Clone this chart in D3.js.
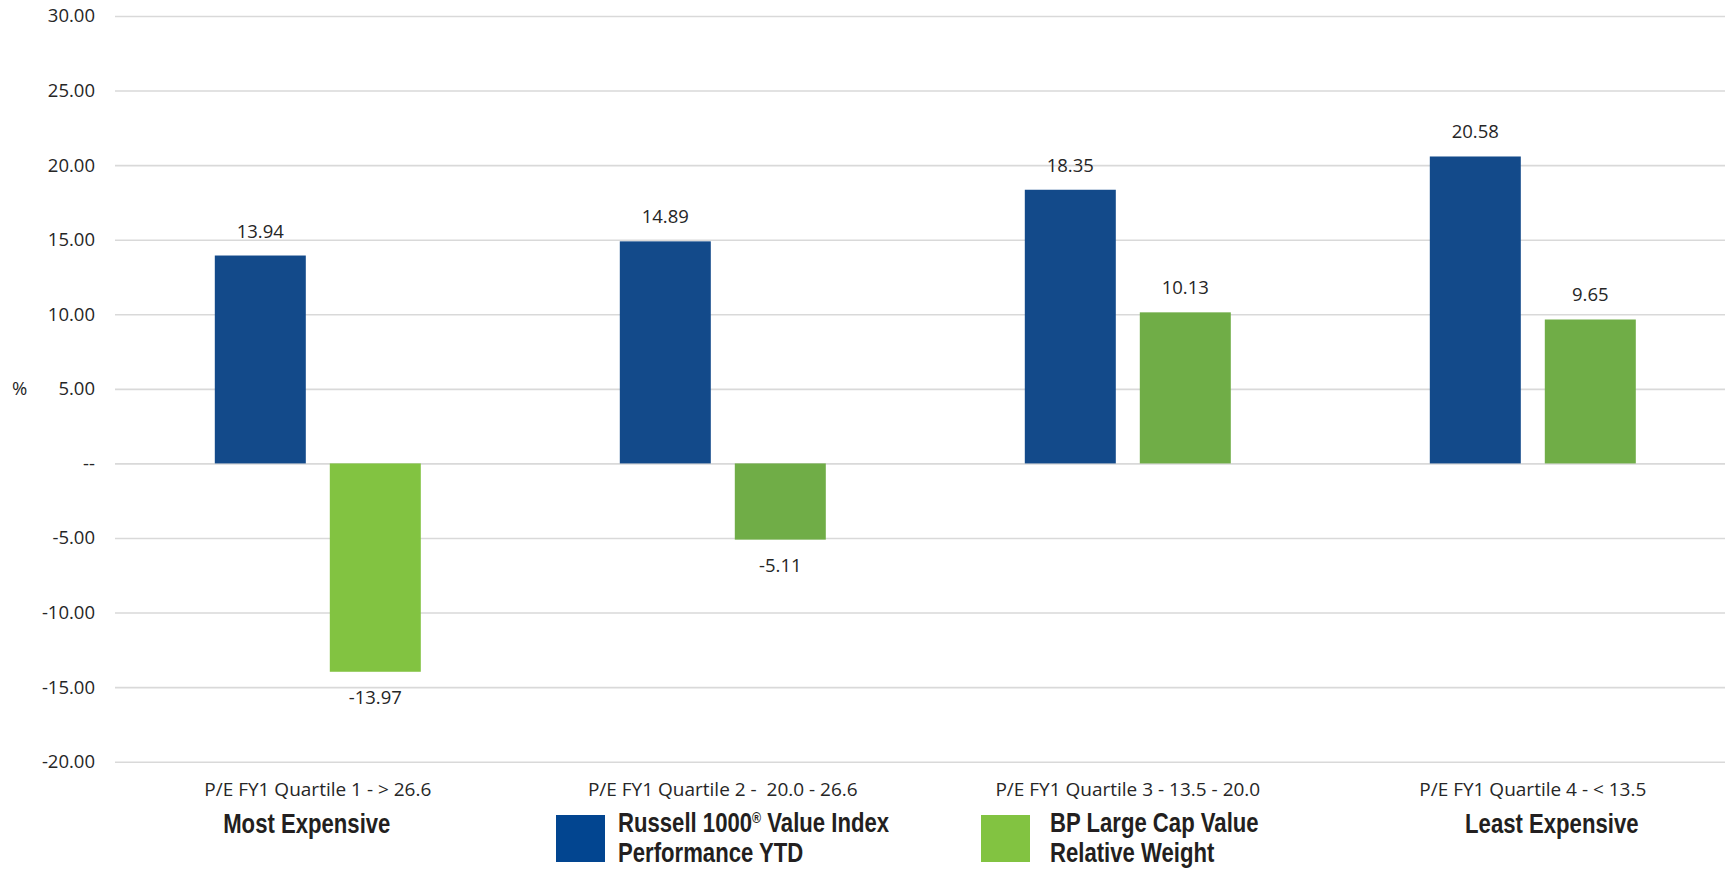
<!DOCTYPE html>
<html>
<head>
<meta charset="utf-8">
<script src="https://cdn.jsdelivr.net/npm/d3@7/dist/d3.min.js"></script>
<style>
  html, body { margin: 0; padding: 0; background: #ffffff; }
  svg { display: block; }
  .tick text { font-family: "Open Sans", "Noto Sans", sans-serif; font-size: 18.5px; fill: #262626; }
</style>
</head>
<body>
<svg id="chart" width="1725" height="869"></svg>
<script>
// ---- data ----
const categories = [
  "P/E FY1 Quartile 1 - > 26.6",
  "P/E FY1 Quartile 2 -  20.0 - 26.6",
  "P/E FY1 Quartile 3 - 13.5 - 20.0",
  "P/E FY1 Quartile 4 - < 13.5"
];
const categoryNotes = ["Most Expensive", "", "", "Least Expensive"];
const seriesNames = ["Russell 1000® Value Index Performance YTD", "BP Large Cap Value Relative Weight"];
const russellValues = [13.94, 14.89, 18.35, 20.58];
const bpValues = [-13.97, -5.11, 10.13, 9.65];
const yTicks = [-20, -15, -10, -5, 0, 5, 10, 15, 20, 25, 30];

// ---- styles ----
const russellColor = "#134a8a";
const bpColors = ["#82c341", "#70ad47", "#70ad47", "#70ad47"];
const legendColors = ["#024590", "#82c341"];
const boldFont = "'Liberation Sans', Arial, sans-serif";
const condense = 0.82;

const fmt = v => d3.format(".2f")(v).replace("\u2212", "-");

const svg = d3.select("#chart");

const y = d3.scaleLinear().domain([-20, 30]).range([761.7, 16]);
const x = d3.scaleBand().domain(categories).range([115.3, 1735.3]).padding(0);
const groupW = 206;
const xs = d3.scaleBand().domain(["russell", "bp"])
  .range([(x.step() - groupW) / 2, (x.step() + groupW) / 2])
  .paddingInner(24 / 115).paddingOuter(0);

// grid + y axis
const axis = d3.axisLeft(y).tickValues(yTicks).tickSize(-1610).tickPadding(20)
  .tickFormat(d => d === 0 ? "--" : fmt(d));
const gAxis = svg.append("g").attr("transform", "translate(115,0)").call(axis);
gAxis.select(".domain").remove();
gAxis.selectAll(".tick line").attr("stroke", "#d9d9d9").attr("stroke-width", 1.6);

// y axis title
svg.append("text").attr("x", 12).attr("y", y(5)).attr("dy", "0.34em")
  .style("font-family", "'Open Sans', sans-serif").style("font-size", "18.5px").style("fill", "#262626")
  .text("%");

const rows = categories.map((c, i) => ({ c, i, r: russellValues[i], b: bpValues[i] }));

const groups = svg.append("g").selectAll("g").data(rows).join("g")
  .attr("transform", d => `translate(${x(d.c)},0)`);

// bars
groups.append("rect")
  .attr("x", xs("russell")).attr("width", xs.bandwidth())
  .attr("y", d => y(Math.max(0, d.r))).attr("height", d => Math.abs(y(d.r) - y(0)))
  .attr("fill", russellColor);
groups.append("rect")
  .attr("x", xs("bp")).attr("width", xs.bandwidth())
  .attr("y", d => y(Math.max(0, d.b))).attr("height", d => Math.abs(y(d.b) - y(0)))
  .attr("fill", d => bpColors[d.i]);

// value labels
const lblStyle = sel => sel.attr("text-anchor", "middle")
  .style("font-family", "'Open Sans', sans-serif").style("font-size", "18.5px").style("fill", "#262626");
groups.append("text").call(lblStyle)
  .attr("x", xs("russell") + xs.bandwidth() / 2)
  .attr("y", d => d.r >= 0 ? y(d.r) - 18 : y(d.r) + 32)
  .text(d => fmt(d.r));
groups.append("text").call(lblStyle)
  .attr("x", xs("bp") + xs.bandwidth() / 2)
  .attr("y", d => d.b >= 0 ? y(d.b) - 18 : y(d.b) + 32)
  .text(d => fmt(d.b));

// category labels
groups.append("text").call(lblStyle)
  .style("font-size", "19px")
  .attr("x", x.step() / 2).attr("y", 796)
  .attr("xml:space", "preserve").style("white-space", "pre")
  .text(d => d.c);

groups.append("text")
  .attr("text-anchor", "middle")
  .attr("transform", d => `translate(${x.step() / 2 + (d.i === 0 ? -11 : 19)},833) scale(${condense},1)`)
  .style("font-family", boldFont).style("font-weight", "bold").style("font-size", "27px").style("fill", "#231f20")
  .text(d => categoryNotes[d.i]);

// legend
const legendItems = [
  { color: legendColors[0], lines: ["Russell 1000\u00AE Value Index", "Performance YTD"], x: 556, tx: 62 },
  { color: legendColors[1], lines: ["BP Large Cap Value", "Relative Weight"], x: 981, tx: 69 }
];
const lg = svg.append("g").selectAll("g").data(legendItems).join("g")
  .attr("transform", d => `translate(${d.x},815)`);
lg.append("rect").attr("width", 49).attr("height", 47).attr("fill", d => d.color);
lg.each(function(d) {
  const g = d3.select(this);
  d.lines.forEach((line, k) => {
    const t = g.append("text")
      .attr("transform", `translate(${d.tx},${17 + k * 29.5}) scale(${condense},1)`)
      .style("font-family", boldFont).style("font-weight", "bold").style("font-size", "27px").style("fill", "#231f20");
    if (line.includes("\u00AE")) {
      const parts = line.split("\u00AE");
      t.append("tspan").text(parts[0]);
      t.append("tspan").attr("dy", -9).style("font-size", "15px").text("\u00AE");
      t.append("tspan").attr("dy", 9).text(parts[1]);
    } else {
      t.text(line);
    }
  });
});
</script>
</body>
</html>
